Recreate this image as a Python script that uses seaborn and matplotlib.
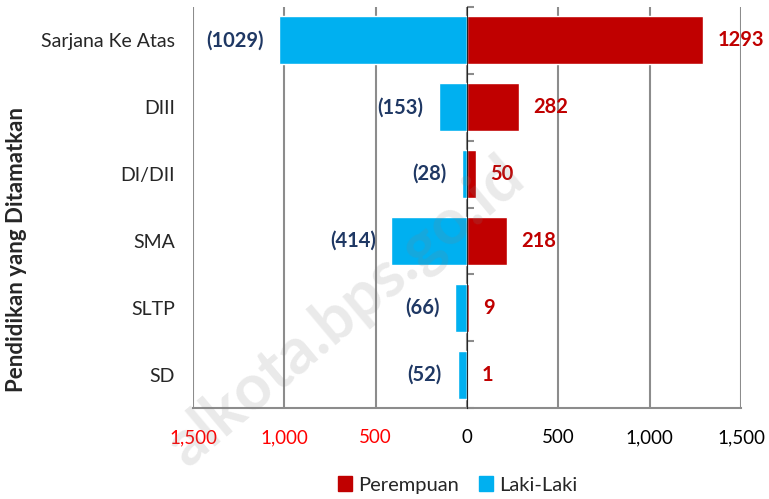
import matplotlib
matplotlib.use("Agg")
import matplotlib.pyplot as plt
import seaborn as sns
import pandas as pd
from matplotlib.ticker import FuncFormatter
from matplotlib.patches import Patch

# Data
kategori = ['Sarjana Ke Atas', 'DIII', 'DI/DII', 'SMA', 'SLTP', 'SD']
laki = [1029, 153, 28, 414, 66, 52]
perempuan = [1293, 282, 50, 218, 9, 1]
xticks = [-1500, -1000, -500, 0, 500, 1000, 1500]

red = '#C00000'
blue = '#00B0F0'
navy = '#1F3864'
grid = '#8C8C8C'

df = pd.DataFrame({'Pendidikan': kategori,
                   'Laki-Laki': [-v for v in laki],
                   'Perempuan': perempuan})

sns.set_style("white")
plt.rcParams['font.family'] = ['Lato', 'DejaVu Sans']

fig = plt.figure(figsize=(7.69, 4.99), dpi=100)
ax = fig.add_axes([0.251, 0.182, 0.7126, 0.804])

sns.barplot(data=df, y='Pendidikan', x='Laki-Laki', color=blue, orient='h',
            width=0.72, saturation=1, ax=ax, zorder=3)
sns.barplot(data=df, y='Pendidikan', x='Perempuan', color=red, orient='h',
            width=0.72, saturation=1, ax=ax, zorder=3)

ax.set_xlim(-1500, 1500)
ax.set_ylim(len(kategori) - 0.5, -0.5)
ax.set_xticks(xticks)
ax.xaxis.set_major_formatter(FuncFormatter(lambda v, p: f'{abs(int(v)):,}'))
for lbl, v in zip(ax.get_xticklabels(), xticks):
    lbl.set_color('#FF0000' if v < 0 else 'black')
    lbl.set_fontsize(13.5)
ax.tick_params(axis='x', length=7, width=1.5, color=grid, pad=8)
ax.tick_params(axis='y', length=0, labelsize=14, pad=13)
ax.grid(axis='x', color=grid, linewidth=1.5, zorder=0)
ax.set_axisbelow(True)
for s in ['top', 'right', 'left']:
    ax.spines[s].set_visible(False)
ax.spines['bottom'].set_color(grid)
ax.spines['bottom'].set_linewidth(1.5)

# zero line with category boundary ticks
sec = ax.secondary_yaxis(0.5)
sec.set_yticks([i + 0.5 for i in range(-1, len(kategori))])
sec.set_yticklabels([])
sec.tick_params(axis='y', length=5, width=1.5, color=grid, direction='out')
sec.spines['left'].set_color(grid)
sec.spines['left'].set_linewidth(1.5)
sec.set_zorder(4)

ax.set_xlabel('')
ax.set_ylabel('Pendidikan yang Ditamatkan', fontsize=16, fontweight='bold')
ax.yaxis.set_label_coords(-0.303, 0.395)

# value labels
for i, (l, p) in enumerate(zip(laki, perempuan)):
    ax.text(-l - 85, i, f'({l})', ha='right', va='center', color=navy,
            fontsize=14.5, fontweight='bold', zorder=5)
    ax.text(p + 78, i, f'{p}', ha='left', va='center', color=red,
            fontsize=14.5, fontweight='bold', zorder=5)

handles = [Patch(color=red, label='Perempuan'), Patch(color=blue, label='Laki-Laki')]
fig.legend(handles=handles, loc='center', bbox_to_anchor=(0.595, 0.028), ncol=2,
           frameon=False, fontsize=14.5, handlelength=0.7, handleheight=0.7,
           handletextpad=0.3, columnspacing=1.0)

# watermark
fig.text(0.449, 0.375, 'alkota.bps.go.id', rotation=40, ha='center', va='center',
         fontsize=46, fontweight='bold', color='gray', alpha=0.17, zorder=10)

fig.savefig('out.png', dpi=100)
